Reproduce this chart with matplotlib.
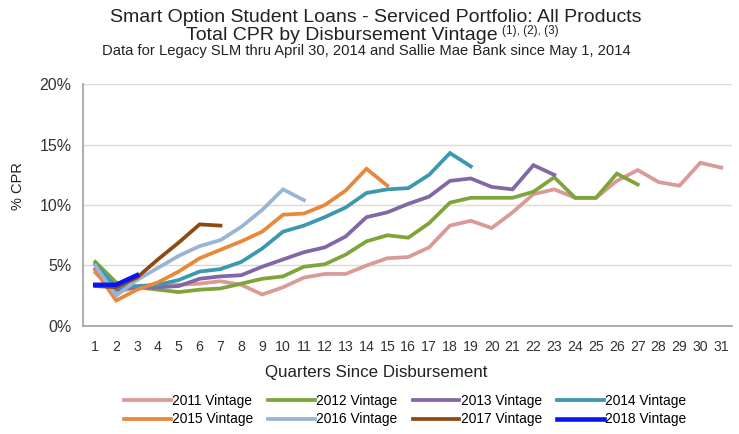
import matplotlib
matplotlib.use("Agg")
from matplotlib import pyplot as plt
from matplotlib.ticker import FuncFormatter

plt.rcParams["font.family"] = ["Liberation Sans", "DejaVu Sans"]

quarters = list(range(1, 32))

v2011 = [4.4, 2.8, 3.2, 3.3, 3.4, 3.5, 3.7, 3.4, 2.6, 3.2, 4.0, 4.3, 4.3, 5.0, 5.6, 5.7, 6.5,
         8.3, 8.7, 8.1, 9.4, 10.9, 11.3, 10.6, 10.6, 12.0, 12.9, 11.9, 11.6, 13.5, 13.1]
v2012 = [5.3, 3.6, 3.2, 3.0, 2.8, 3.0, 3.1, 3.5, 3.9, 4.1, 4.9, 5.1, 5.9, 7.0, 7.5, 7.3, 8.5,
         10.2, 10.6, 10.6, 10.6, 11.1, 12.3, 10.6, 10.6, 12.6, 11.7]
v2013 = [4.7, 3.0, 3.2, 3.2, 3.3, 3.9, 4.1, 4.2, 4.9, 5.5, 6.1, 6.5, 7.4, 9.0, 9.4, 10.1, 10.7,
         12.0, 12.2, 11.5, 11.3, 13.3, 12.5]
v2014 = [5.1, 3.2, 3.3, 3.4, 3.8, 4.5, 4.7, 5.3, 6.4, 7.8, 8.3, 9.0, 9.8, 11.0, 11.3, 11.4, 12.5,
         14.3, 13.2]
v2015 = [4.6, 2.1, 3.0, 3.6, 4.5, 5.6, 6.3, 7.0, 7.8, 9.2, 9.3, 10.0, 11.2, 13.0, 11.6]
v2016 = [5.0, 2.5, 3.8, 4.8, 5.8, 6.6, 7.1, 8.2, 9.6, 11.3, 10.4]
v2017 = [3.3, 3.2, 4.0, 5.5, 6.9, 8.4, 8.3]
v2018 = [3.4, 3.4, 4.2]

labels = ["2011 Vintage", "2012 Vintage", "2013 Vintage", "2014 Vintage",
          "2015 Vintage", "2016 Vintage", "2017 Vintage", "2018 Vintage"]
series = [v2011, v2012, v2013, v2014, v2015, v2016, v2017, v2018]
colors = ["#D99A98", "#7EA43A", "#8266A6", "#3B98AF", "#E8883A", "#98B4D6", "#8E4A12", "#0A14F0"]
widths = [2.7, 2.7, 2.7, 2.7, 2.7, 2.7, 2.7, 3.3]

fig = plt.figure(figsize=(7.39, 4.34), dpi=100)
ax = fig.add_axes([0.112, 0.249, 0.878, 0.557])

lines = []
for vals, lab, col, lw in zip(series, labels, colors, widths):
  ln, = ax.plot(quarters[:len(vals)], vals, color=col, linewidth=lw, label=lab,
                solid_joinstyle="miter", zorder=3)
  lines.append(ln)

ax.set_xlim(0.4, 31.5)
ax.set_ylim(0, 20)
ax.set_xticks(quarters)
ax.set_yticks([0, 5, 10, 15, 20])
ax.yaxis.set_major_formatter(FuncFormatter(lambda y, p: f"{y:.0f}%"))
ax.tick_params(axis="both", length=0, colors="#333333")
ax.tick_params(axis="y", labelsize=11.5, pad=8)
ax.tick_params(axis="x", labelsize=10.2, pad=10)
ax.grid(axis="y", color="#DEDAD0", linewidth=1.0)
ax.set_axisbelow(True)
for s in ["top", "right"]:
  ax.spines[s].set_visible(False)
for s in ["left", "bottom"]:
  ax.spines[s].set_color("#A0A0A0")
  ax.spines[s].set_linewidth(1.2)

# axis titles are centred on the figure, not the plot area
fig.text(18 / 739, 1 - 186 / 434, "% CPR", rotation=90, ha="center", va="center",
         fontsize=10.5, color="#222222")
fig.text(376 / 739, 1 - 372 / 434, "Quarters Since Disbursement", ha="center", va="center",
         fontsize=12.2, color="#222222")

fig.text(376 / 739, 1 - 18 / 434, "Smart Option Student Loans - Serviced Portfolio: All Products",
         ha="center", va="center", fontsize=14, color="#222222")
t2 = fig.text(342 / 739, 1 - 36 / 434, "Total CPR by Disbursement Vintage",
              ha="center", va="center", fontsize=14, color="#222222")
fig.canvas.draw()
bb = t2.get_window_extent()
fig.text((bb.x1 + 4) / 739, 1 - 31 / 434, "(1), (2), (3)",
         ha="left", va="center", fontsize=8.5, color="#222222")
fig.text(366 / 739, 1 - 51 / 434,
         "Data for Legacy SLM thru April 30, 2014 and Sallie Mae Bank since May 1, 2014",
         ha="center", va="center", fontsize=10.6, color="#222222")

order = [0, 4, 1, 5, 2, 6, 3, 7]
fig.legend([lines[i] for i in order], [labels[i] for i in order],
           ncol=4, loc="center", bbox_to_anchor=(405 / 739, 1 - 410 / 434),
           frameon=False, fontsize=9.9, handlelength=3.4, handletextpad=0.1,
           columnspacing=1.1, labelspacing=0.35, borderpad=0)

fig.savefig("out.png", dpi=100)
